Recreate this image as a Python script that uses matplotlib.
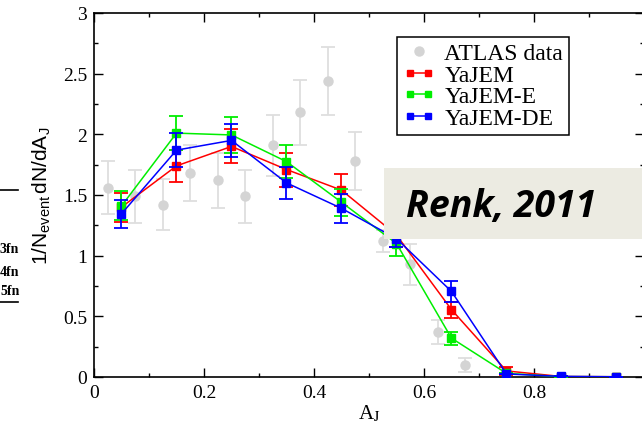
import matplotlib
matplotlib.use("Agg")
import matplotlib.pyplot as plt
from matplotlib.patches import Rectangle
from matplotlib.lines import Line2D
from matplotlib.legend_handler import HandlerLine2D
from matplotlib.ticker import MultipleLocator, FuncFormatter

plt.rcParams['mathtext.fontset'] = 'custom'
plt.rcParams['mathtext.rm'] = 'Liberation Sans'
plt.rcParams['mathtext.it'] = 'Liberation Sans'

# ATLAS data (gray)
atlas_x = [0.025, 0.075, 0.125, 0.175, 0.225, 0.275, 0.325, 0.375, 0.425, 0.475,
           0.525, 0.575, 0.625, 0.675]
atlas_y = [1.56, 1.49, 1.42, 1.68, 1.62, 1.49, 1.91, 2.18, 2.44, 1.78,
           1.12, 0.93, 0.37, 0.10]
atlas_err = [0.22, 0.22, 0.21, 0.23, 0.23, 0.22, 0.25, 0.27, 0.28, 0.24,
             0.09, 0.17, 0.10, 0.055]

# model bins
model_x = [0.05, 0.15, 0.25, 0.35, 0.45, 0.55, 0.65, 0.75, 0.85, 0.95]
yajem_y = [1.40, 1.74, 1.90, 1.71, 1.54, 1.17, 0.555, 0.05, 0.004, 0.002]
yajem_err = [0.12, 0.13, 0.14, 0.14, 0.13, 0.10, 0.065, 0.03, 0.0, 0.0]
yajem_e_y = [1.41, 2.01, 1.995, 1.775, 1.44, 1.10, 0.32, 0.03, 0.003, 0.002]
yajem_e_err = [0.12, 0.14, 0.145, 0.135, 0.11, 0.10, 0.055, 0.0, 0.0, 0.0]
yajem_de_y = [1.345, 1.87, 1.95, 1.60, 1.39, 1.14, 0.705, 0.025, 0.005, 0.002]
yajem_de_err = [0.115, 0.14, 0.135, 0.13, 0.12, 0.07, 0.085, 0.0, 0.0, 0.0]

W, H = 642, 427
fig = plt.figure(figsize=(W / 100, H / 100), dpi=100)
ax = fig.add_axes([94 / W, (H - 378) / H, 550 / W, 364 / H])

ax.errorbar(atlas_x, atlas_y, yerr=atlas_err, fmt='o', color='#d4d4d4', ms=6.5,
            ecolor='#dedede', elinewidth=1.3, capsize=5, capthick=1.3, zorder=1)

series = [(yajem_y, yajem_err, '#ff0000', 'YaJEM'),
          (yajem_e_y, yajem_e_err, '#00ee00', 'YaJEM-E'),
          (yajem_de_y, yajem_de_err, '#0000ff', 'YaJEM-DE')]
for i, (yv, ye, c, lab) in enumerate(series):
    ax.errorbar(model_x, yv, yerr=ye, fmt='s-', color=c, ms=5.5, lw=1.1,
                elinewidth=1.3, capsize=5, capthick=1.3, zorder=3 + i)

ax.set_xlim(0, 1)
ax.set_ylim(0, 3)
ax.xaxis.set_major_locator(MultipleLocator(0.2))
ax.xaxis.set_minor_locator(MultipleLocator(0.1))
ax.yaxis.set_major_locator(MultipleLocator(0.5))
ax.yaxis.set_minor_locator(MultipleLocator(0.25))
ax.xaxis.set_major_formatter(FuncFormatter(lambda v, p: '' if v > 0.9 else '%g' % v))
ax.yaxis.set_major_formatter(FuncFormatter(lambda v, p: '%g' % v))
ax.tick_params(which='both', direction='in', top=True, right=True, width=1.0,
               labelsize=14, pad=5)
ax.tick_params(which='major', length=6.5)
ax.tick_params(which='minor', length=3.2)
for lab in ax.get_xticklabels() + ax.get_yticklabels():
    lab.set_fontfamily('Liberation Serif')
for s in ax.spines.values():
    s.set_linewidth(1.2)

ax.set_xlabel(r'A$_\mathrm{J}$', fontsize=15, family='Liberation Serif',
              math_fontfamily='stix', labelpad=1)
ax.set_ylabel(r'$\mathrm{1/N_{event}\,dN/dA_J}$', fontsize=15, labelpad=7)

atlas_handle = Line2D([], [], ls='none', marker='o', color='#d4d4d4', ms=6.5)
handles = [atlas_handle]
for yv, ye, c, lab in series:
    handles.append(Line2D([], [], color=c, marker='s', ms=5.0, lw=1.1))
leg = ax.legend(handles, ['ATLAS data', 'YaJEM', 'YaJEM-E', 'YaJEM-DE'],
                loc='upper left', bbox_to_anchor=(397 / W, 1 - 38 / H),
                bbox_transform=fig.transFigure, numpoints=2, handlelength=1.35,
                handler_map={atlas_handle: HandlerLine2D(numpoints=1)},
                handletextpad=0.4, labelspacing=0.0, borderpad=0.25,
                borderaxespad=0, fancybox=False, framealpha=1,
                prop={'family': 'Liberation Serif', 'size': 17})
leg.get_frame().set_edgecolor('black')
leg.get_frame().set_linewidth(1.1)

# overlay box
fig.patches.append(Rectangle((384 / W, 1 - 240 / H), (W - 384) / W, 71 / H,
                             transform=fig.transFigure, facecolor='#ecebe2',
                             edgecolor='none', zorder=10))
fig.text(501 / W, 1 - 207 / H, 'Renk, 2011', family='Open Sans', weight='bold',
         style='italic', fontsize=27, ha='center', va='center', zorder=11)

# bits of a neighbouring figure at the left edge
fig.add_artist(Line2D([0, 18 / W], [1 - 191 / H] * 2, color='black', lw=1.2))
fig.add_artist(Line2D([0, 18 / W], [1 - 303 / H] * 2, color='black', lw=1.2))
for txt, yp in [('3fn', 250), ('4fn', 272), ('5fn', 292)]:
    fig.text(0, 1 - yp / H, txt, family='Liberation Serif', weight='bold',
             fontsize=10, ha='left', va='center')

fig.savefig('out.png', dpi=100)
